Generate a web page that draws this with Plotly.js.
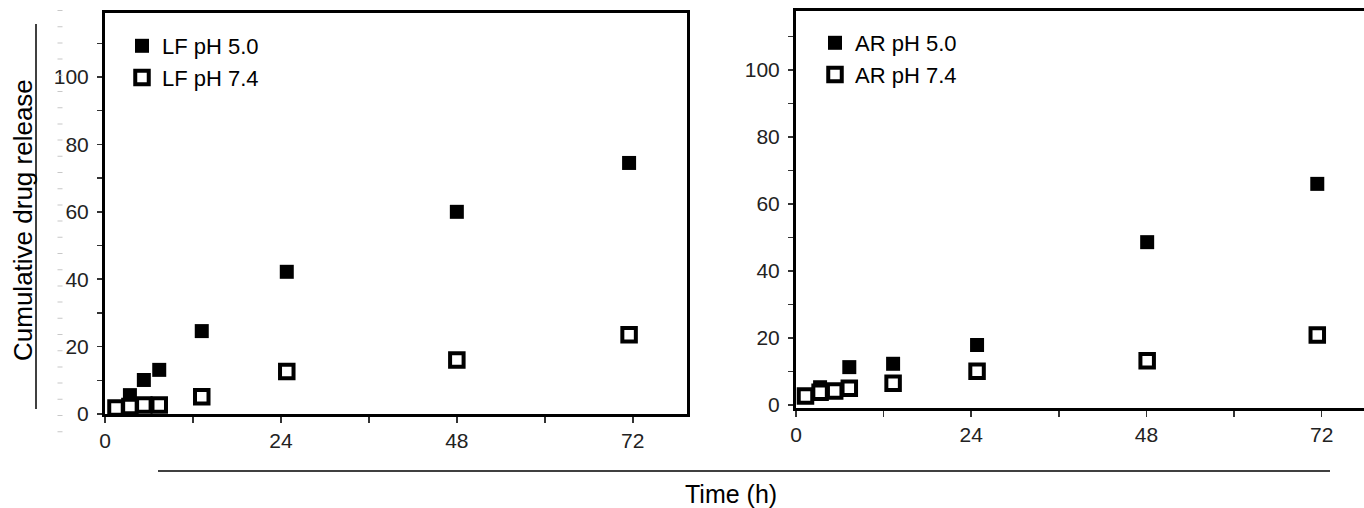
<!DOCTYPE html>
<html>
<head>
<meta charset="utf-8">
<script src="https://cdn.plot.ly/plotly-3.0.1.min.js"></script>
<style>html,body{margin:0;padding:0;background:#fff;}#chart{width:1364px;height:508px;}</style>
</head>
<body>
<div id="chart"></div>
<script>
// ---- data ----
const lfTimeAcid = [3.4, 5.3, 7.4, 13.2, 24.8, 48, 71.5];
const lfAcid     = [5.6, 10.1, 13.1, 24.6, 42.2, 60.0, 74.5];
const lfTimeNeut = [1.5, 3.4, 5.3, 7.4, 13.2, 24.8, 48, 71.5];
const lfNeut     = [1.8, 2.2, 2.7, 2.7, 5.1, 12.6, 16.0, 23.5];

const arTimeAcid = [3.3, 7.3, 13.3, 24.8, 48.1, 71.4];
const arAcid     = [5.3, 11.3, 12.3, 17.9, 48.6, 66.0];
const arTimeNeut = [1.3, 3.3, 5.3, 7.3, 13.3, 24.8, 48.1, 71.4];
const arNeut     = [2.7, 3.8, 4.2, 5.0, 6.5, 10.1, 13.2, 20.9];

const seriesNames = ["LF pH 5.0", "LF pH 7.4", "AR pH 5.0", "AR pH 7.4"];
const xTickVals = [0, 24, 48, 72];
const yTickVals = [0, 20, 40, 60, 80, 100];
const xTitle = "Time (h)";
const yTitle = "Cumulative drug release";

// ---- styling ----
const W = 1364, H = 508;
const FONT = "Liberation Sans, Arial, Helvetica, sans-serif";
const px = v => v / W;
const py = v => 1 - v / H;

const filled = {symbol: "square", size: 14, color: "#000", line: {width: 0}};
const hollow = {symbol: "square", size: 13.5, color: "#fff", line: {color: "#000", width: 4}};

const traces = [
  {x: lfTimeAcid, y: lfAcid, name: seriesNames[0], type: "scatter", mode: "markers", marker: filled, xaxis: "x", yaxis: "y", legend: "legend"},
  {x: lfTimeNeut, y: lfNeut, name: seriesNames[1], type: "scatter", mode: "markers", marker: hollow, xaxis: "x", yaxis: "y", legend: "legend"},
  {x: arTimeAcid, y: arAcid, name: seriesNames[2], type: "scatter", mode: "markers", marker: filled, xaxis: "x2", yaxis: "y2", legend: "legend2"},
  {x: arTimeNeut, y: arNeut, name: seriesNames[3], type: "scatter", mode: "markers", marker: hollow, xaxis: "x2", yaxis: "y2", legend: "legend2"}
];

const tickFont = {family: FONT, size: 21, color: "#222"};
function xAx(domain, range, anchor) {
  return {
    domain: domain, range: range, anchor: anchor,
    showline: true, linecolor: "#000", linewidth: 3, mirror: true,
    showgrid: false, zeroline: false,
    tickmode: "array", tickvals: xTickVals,
    ticks: "outside", ticklen: 6, tickwidth: 1.5, tickcolor: "#333",
    minor: {ticks: "outside", ticklen: 6, tickwidth: 1.5, tickcolor: "#333", dtick: 12, tick0: 0, showgrid: false},
    tickfont: tickFont, ticklabelstandoff: 0, fixedrange: true
  };
}
function yAx(domain, range, anchor, mirror) {
  return {
    domain: domain, range: range, anchor: anchor,
    showline: true, linecolor: "#000", linewidth: 3, mirror: mirror,
    showgrid: false, zeroline: false,
    tickmode: "array", tickvals: yTickVals,
    ticks: "outside", ticklen: 5, tickwidth: 1.5, tickcolor: "#333",
    minor: {ticks: "outside", ticklen: 5, tickwidth: 1.5, tickcolor: "#333", dtick: 10, tick0: 0, showgrid: false},
    tickfont: tickFont, ticklabelstandoff: 4, fixedrange: true
  };
}

const legendFont = {family: FONT, size: 22, color: "#000"};
const layout = {
  width: W, height: H,
  margin: {l: 0, r: 0, t: 0, b: 0},
  paper_bgcolor: "#fff", plot_bgcolor: "#fff",
  font: {family: FONT, color: "#000"},
  showlegend: true,
  xaxis:  xAx([px(105), px(687)], [0, 79.4], "y"),
  yaxis:  yAx([py(414), py(13)], [0, 119], "x", true),
  xaxis2: xAx([px(796), 1], [0, 77.8], "y2"),
  yaxis2: yAx([py(408), py(11)], [-0.9, 117.6], "x2", false),
  legend:  {x: px(122), y: py(25), xanchor: "left", yanchor: "top", bgcolor: "rgba(0,0,0,0)", font: legendFont, tracegroupgap: 0, itemwidth: 30},
  legend2: {x: px(815), y: py(22), xanchor: "left", yanchor: "top", bgcolor: "rgba(0,0,0,0)", font: legendFont, tracegroupgap: 0, itemwidth: 30},
  annotations: [
    {text: yTitle, xref: "paper", yref: "paper", x: px(23), y: py(220), xanchor: "center", yanchor: "middle",
     textangle: -90, showarrow: false, font: {family: FONT, size: 26, color: "#000"}},
    {text: xTitle, xref: "paper", yref: "paper", x: px(731), y: py(494), xanchor: "center", yanchor: "middle",
     showarrow: false, font: {family: FONT, size: 25, color: "#000"}}
  ],
  shapes: [
    {type: "line", xref: "paper", yref: "paper", x0: px(36), x1: px(36), y0: py(24), y1: py(409), line: {color: "#000", width: 1.5}},
    {type: "line", xref: "paper", yref: "paper", x0: px(158), x1: px(1330), y0: py(471), y1: py(471), line: {color: "#000", width: 1.5}},
    {type: "line", xref: "paper", yref: "paper", x0: px(60), x1: px(60), y0: py(10), y1: py(446), line: {color: "#c8c8c8", width: 5, dash: "1px,15.2px"}}
  ]
};

Plotly.newPlot("chart", traces, layout, {staticPlot: true, displayModeBar: false});
</script>
</body>
</html>
